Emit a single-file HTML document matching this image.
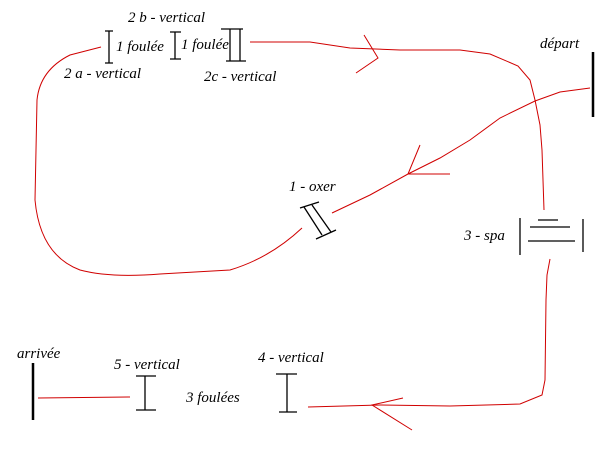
<!DOCTYPE html>
<html><head><style>
body{margin:0;background:#fff}
svg{display:block}
text{font-family:"Liberation Serif",serif;font-style:italic;font-size:15px;fill:#000}
</style></head><body>
<svg width="600" height="450" viewBox="0 0 600 450">
<g fill="none" stroke="#d00000" stroke-width="1">
<path d="M101,47 L70,55 Q40,70 37,100 L35,200 Q40,255 80,270 Q110,278 160,274 L230,270 Q270,258 302,228"/>
<path d="M332,213 L370,195 L408,174 L440,158 L470,140 L500,118 L535,101 L560,92 L590,88"/>
<path d="M420,145 L408,174 L450,174"/>
<path d="M250,42 L310,42 L350,48 L400,50 L460,50 L490,54 L518,66 L530,80 L535,100 L540,125 L542,150 L544,210"/>
<path d="M364,35 L378,58 L356,73"/>
<path d="M550,259 L547,275 L546,300 L545,380 L542,395 L520,404 L450,406 L380,405 L308,407"/>
<path d="M403,398 L372,405 L412,430"/>
<path d="M38,398 L130,397"/>
</g>
<g stroke="#000" stroke-width="1.3" fill="none">
<path d="M109,31 V63 M105,31 H113 M105,63 H113"/>
<path d="M175,32 V59 M170,32 H181 M170,59 H181"/>
<path d="M230,29 V61 M240,29 V61 M221,29 H243 M226,61 H246"/>
<path d="M300,208 L319,202 M304,207 L322,235 M312,205 L331,232 M316,239 L336,230"/>
<path d="M520,218 V255 M583,219 V252 M538,220 H558 M530,227 H570 M528,241 H575"/>
<path d="M136,376 H156 M145,376 V410 M136,410 H156"/>
<path d="M276,374 H297 M287,374 V412 M279,412 H297"/>
</g>
<path d="M593,52 V117 M33,363 V420" stroke="#000" stroke-width="2.5"/>
<text x="128" y="22">2 b - vertical</text>
<text x="116" y="51">1 foulée</text>
<text x="181" y="49">1 foulée</text>
<text x="64" y="78">2 a - vertical</text>
<text x="204" y="81">2c - vertical</text>
<text x="540" y="48" font-size="13">départ</text>
<text x="289" y="191">1 - oxer</text>
<text x="464" y="240">3 - spa</text>
<text x="17" y="358" font-size="13">arrivée</text>
<text x="114" y="369">5 - vertical</text>
<text x="258" y="362">4 - vertical</text>
<text x="186" y="402">3 foulées</text>
</svg>
</body></html>
